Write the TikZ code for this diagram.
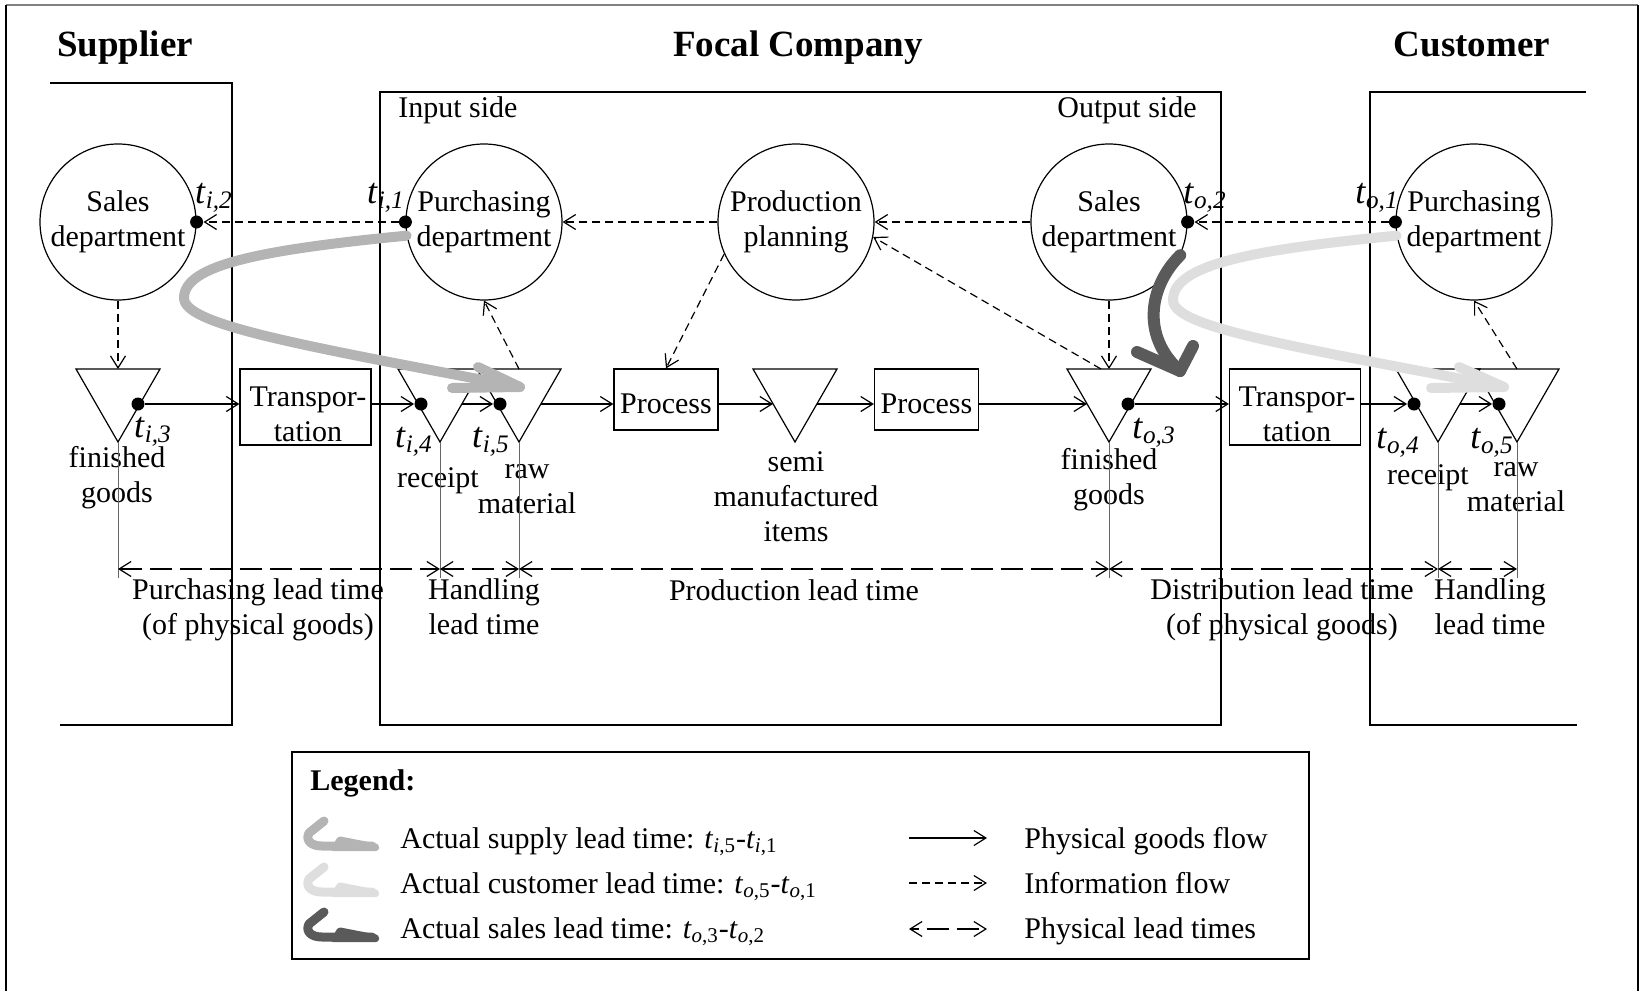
\documentclass[tikz,border=0pt]{standalone}
\usepackage{fontspec}
\setmainfont{Liberation Serif}
\usetikzlibrary{arrows.meta,calc}
\definecolor{gsup}{RGB}{180,180,180}
\definecolor{gcus}{RGB}{222,222,222}
\definecolor{gsal}{RGB}{90,90,90}
\newcommand{\tsb}[1]{\textit{t}\textsubscript{\textit{#1}}}
\newcommand{\tlg}[2]{\textit{t}\textsubscript{\textit{#1},#2}}
\begin{document}
\begin{tikzpicture}[x=0.5pt,y=-0.5pt,
  every node/.style={font=\fontsize{15}{17.5}\selectfont, inner sep=0pt, align=center},
  ttl/.style={font=\fontsize{18.5}{22}\selectfont\bfseries, anchor=base},
  tlab/.style={font=\fontsize{18}{21}\selectfont},
  circ/.style={draw, circle, minimum size=78pt, line width=0.6pt},
  box/.style={draw, rectangle, line width=0.6pt},
  dot/.style={circle, fill=black, minimum size=6.5pt},
  frm/.style={line width=0.6pt},
  tri/.style={line width=0.6pt},
  phys/.style={-{Straight Barb[length=6pt,width=7.5pt]}, line width=0.6pt},
  info/.style={phys, dash pattern=on 4pt off 2.5pt},
  lead/.style={{Straight Barb[length=6pt,width=7.5pt]}-{Straight Barb[length=6pt,width=7.5pt]}, line width=0.6pt, dash pattern=on 11pt off 4pt},
  drop/.style={gray!80!black, line width=0.5pt},
  bigarr/.style={line width=5pt, line cap=round, line join=round},
]
\useasboundingbox (0,0) rectangle (1646,991);
% outer frame
\draw[frm, gray] (6,5) -- (1638,5);
\draw[frm] (6,991) -- (6,5);
\draw[frm] (1638,5) -- (1638,991);

% titles
\node[ttl] (tsup) at (125,56) {Supplier};
\node[ttl] (tfoc) at (798,56) {Focal Company};
\node[ttl] (tcus) at (1472,56) {Customer};

% company boxes
\draw[frm] (50,83) -- (232,83) -- (232,725) -- (60,725);
\draw[frm] (380,92) rectangle (1221,725);
\draw[frm] (1586,92) -- (1370,92) -- (1370,725) -- (1577,725);
\node[anchor=west] (inside) at (398,110) {Input side};
\node[anchor=east] (outside) at (1197,110) {Output side};

% circles
\node[circ] (ssales) at (118,222) {Sales\\department};
\node[circ] (fpurch) at (484,222) {Purchasing\\department};
\node[circ] (fprod) at (796,222) {Production\\planning};
\node[circ] (fsales) at (1109,222) {Sales\\department};
\node[circ] (cpurch) at (1474,222) {Purchasing\\department};

\node[dot] (di2) at (ssales.east) {};
\node[dot] (di1) at (fpurch.west) {};
\node[dot] (do2) at (fsales.east) {};
\node[dot] (do1) at (cpurch.west) {};

% triangles
\foreach \n/\x in {sfin/118, frec/440, fraw/519, fsemi/795, ffin/1109, crec/1438, craw/1517} {
  \draw[tri] (\x-42,369) -- (\x+42,369) -- (\x,442) -- cycle;
  \coordinate (\n-top) at (\x,369);
  \coordinate (\n-apex) at (\x,442);
  \coordinate (\n-L) at (\x-22,404);
  \coordinate (\n-R) at (\x+22,404);
  \coordinate (\n-lt) at (\x,569);
}
\coordinate (ffin-in) at (1101,369);

% boxes (frames, then their texts)
\node[box, minimum width=65.5pt, minimum height=38pt] (tr1) at (305.5,407) {};
\node[box, minimum width=52pt, minimum height=30.5pt] (pr1) at (666,399.5) {};
\node[box, minimum width=52pt, minimum height=30.5pt] (pr2) at (926.5,399.5) {};
\node[box, minimum width=65.5pt, minimum height=38pt] (tr2) at (1295,407) {};
\node (tr1t) at (308,414) {Transpor-\\tation};
\node (pr1t) at (666,404) {Process};
\node (pr2t) at (926.5,404) {Process};
\node (tr2t) at (1297,414) {Transpor-\\tation};

% dots on the goods line
\node[dot] (di3) at (138,404) {};
\node[dot] (di4) at (421,404) {};
\node[dot] (di5) at (500,404) {};
\node[dot] (do3) at (1128,404) {};
\node[dot] (do4) at (1414,404) {};
\node[dot] (do5) at (1499,404) {};

% physical goods flow
\draw[phys] (di3) -- (di3 -| tr1.west);
\draw[phys] (tr1.east |- di4) -- (di4);
\draw[phys] (frec-R) -- (di5);
\draw[phys] (fraw-R) -- (fraw-R -| pr1.west);
\draw[phys] (pr1.east |- fsemi-L) -- (fsemi-L);
\draw[phys] (fsemi-R) -- (fsemi-R -| pr2.west);
\draw[phys] (pr2.east |- ffin-L) -- (ffin-L);
\draw[phys] (do3) -- (do3 -| tr2.west);
\draw[phys] (tr2.east |- do4) -- (do4);
\draw[phys] (crec-R) -- (do5);

% information flow
\draw[info] (di1) -- (di2);
\draw[info] (fprod) -- (fpurch);
\draw[info] (fsales) -- (fprod);
\draw[info] (do1) -- (do2);
\draw[info] (fprod.204) -- (pr1.north);
\draw[info] (ffin-in) -- (fprod.-11);
\draw[info] (fsales) -- (ffin-top);
\draw[info] (ssales) -- (sfin-top);
\draw[info] (fraw-top) -- (fpurch.south);
\draw[info] (craw-top) -- (cpurch.south);

% time labels
\node[tlab] (li2) at (214,198) {\tsb{i,2}};
\node[tlab] (li1) at (386,198) {\tsb{i,1}};
\node[tlab] (lo2) at (1205,198) {\tsb{o,2}};
\node[tlab] (lo1) at (1377,198) {\tsb{o,1}};
\node[tlab] (li3) at (153,432) {\tsb{i,3}};
\node[tlab] (li4) at (414,442) {\tsb{i,4}};
\node[tlab] (li5) at (491,442) {\tsb{i,5}};
\node[tlab] (lo3) at (1154,433) {\tsb{o,3}};
\node[tlab] (lo4) at (1398,443) {\tsb{o,4}};
\node[tlab] (lo5) at (1492,443) {\tsb{o,5}};

% triangle labels
\node (lsfin) at (117,478) {finished\\goods};
\node (lfrec) at (438,481) {receipt};
\node (lfraw) at (527,489) {raw\\material};
\node (lfsemi) at (796,497) {semi\\manufactured\\items};
\node (lffin) at (1109,480) {finished\\goods};
\node (lcrec) at (1428,478) {receipt};
\node (lcraw) at (1516,487) {raw\\material};

% drop lines and lead times
\foreach \n in {sfin,frec,fraw,ffin,crec,craw} {
  \draw[drop] (\n-apex) -- ++(0,136);
}
\draw[lead] (sfin-lt) -- (frec-lt);
\draw[lead] (frec-lt) -- (fraw-lt);
\draw[lead] (fraw-lt) -- (ffin-lt);
\draw[lead] (ffin-lt) -- (crec-lt);
\draw[lead] (crec-lt) -- (craw-lt);

\node (lpur) at (258,610) {Purchasing lead time\\(of physical goods)};
\node (lhan1) at (484,607) {Handling\\lead time};
\node (lprod) at (794,590) {Production lead time};
\node (ldis) at (1282,610) {Distribution lead time\\(of physical goods)};
\node (lhan2) at (1490,607) {Handling\\lead time};

% big curved arrows
\coordinate (sTip) at (520,387);
\draw[bigarr, gsup] (fpurch.190) .. controls (260,250) and (184,265) .. (184,298)
   .. controls (184,325) and (300,345) .. (sTip);
\draw[bigarr, gsup] (478,367) -- (sTip) -- (452,388);

\coordinate (cTip) at (1504,387);
\draw[bigarr, gcus] (cpurch.190) .. controls (1250,250) and (1173,265) .. (1173,300)
   .. controls (1173,327) and (1285,345) .. (cTip);
\draw[bigarr, gcus] (1459,367) -- (cTip) -- (1431,388);

\coordinate (oTip) at (1180,371);
\draw[bigarr, gsal, line width=6pt] (fsales.-25) .. controls (1150,285) and (1140,335) .. (oTip);
\draw[bigarr, gsal, line width=6pt] (1137,352) -- (oTip) -- (1193,346);

% legend
\draw[frm] (292,752) rectangle (1309,959);
\node[anchor=west, font=\fontsize{15}{17.5}\selectfont\bfseries] (leg) at (310,783) {Legend:};
\foreach \c/\y in {gsup/835, gcus/881, gsal/926} {
  \begin{scope}[shift={(0,\y)}]
    \draw[\c, line width=4.5pt, line cap=round, line join=round] (324,-14) -- (309,-2) .. controls (305,6) and (312,11) .. (322,11) -- (372,11);
    \fill[\c, rounded corners=1.5pt] (338,1) -- (379,9) -- (379,16) -- (330,16) -- cycle;
  \end{scope}
}
\node[anchor=base west] (lg1) at (400,848) {Actual supply lead time: \tlg{i}{5}-\tlg{i}{1}};
\node[anchor=base west] (lg2) at (400,893) {Actual customer lead time: \tlg{o}{5}-\tlg{o}{1}};
\node[anchor=base west] (lg3) at (400,938) {Actual sales lead time: \tlg{o}{3}-\tlg{o}{2}};

\coordinate (la1) at (909,838); \coordinate (lb1) at (987,838);
\coordinate (la2) at (909,883); \coordinate (lb2) at (987,883);
\coordinate (la3) at (909,929); \coordinate (lb3) at (987,929);
\draw[phys] (la1) -- (lb1);
\draw[info] (la2) -- (lb2);
\draw[lead, dash phase=7pt] (la3) -- (lb3);
\node[anchor=base west] (lr1) at (1024,848) {Physical goods flow};
\node[anchor=base west] (lr2) at (1024,893) {Information flow};
\node[anchor=base west] (lr3) at (1024,938) {Physical lead times};
\end{tikzpicture}
\end{document}
